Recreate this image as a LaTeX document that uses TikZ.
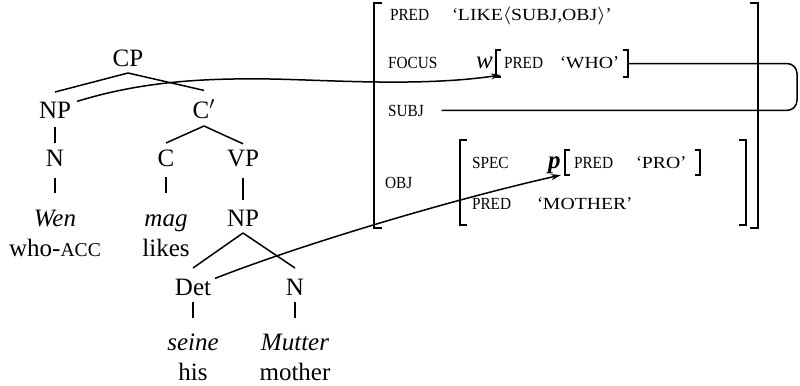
\documentclass[tikz,border=0pt]{standalone}
\usepackage{fontspec}
\usepackage{graphicx}
\setmainfont{Liberation Serif}
\usetikzlibrary{arrows.meta}
\newcommand\trf{\fontsize{12.5pt}{14pt}\selectfont}
\newcommand\avf{\fontsize{8.5pt}{9pt}\selectfont}
\newcommand\smc[1]{{\fontsize{9.8pt}{11pt}\selectfont #1}}
\newcommand\angl[1]{{\fontsize{9pt}{9pt}\selectfont$#1$}}
\newcommand\qt[1]{{\fontsize{9pt}{9pt}\selectfont #1}}
\newcommand\lab[1]{\scalebox{0.9}[1]{#1}}
\newcommand\val[1]{\qt{‘}\scalebox{1.16}[1]{#1}\qt{’}}
\newcommand\fsbrackets[2]{%
  \draw[ln] ([xshift=#2]#1.north west) -- (#1.north west) -- (#1.south west) -- ([xshift=#2]#1.south west);
  \draw[ln] ([xshift=-#2]#1.north east) -- (#1.north east) -- (#1.south east) -- ([xshift=-#2]#1.south east);}
\begin{document}
\begin{tikzpicture}[x=0.5pt,y=-0.5pt,
  ln/.style={line width=0.75pt},
  tn/.style={inner sep=0pt, outer sep=0pt, anchor=base, font=\trf, text height=8.3pt, text depth=0pt},
  av/.style={inner sep=0pt, outer sep=0pt, anchor=base west, font=\avf, text height=5.6pt, text depth=0pt},
  fsb/.style={inner sep=0pt, outer sep=0pt},
  arr/.style={ln, -{Stealth[length=5pt,width=3pt]}}]
\useasboundingbox (0,0) rectangle (800,386);
% tree
\node[tn] (cp) at (128,66) {CP};
\node[tn] (np1) at (55,118) {NP};
\node[tn] (cbar) at (204,118) {C$'$};
\node[tn] (n1) at (55,166) {N};
\node[tn] (c) at (166,166) {C};
\node[tn] (vp) at (243,166) {VP};
\node[tn] (wen) at (55,226) {\itshape Wen};
\node[tn] (mag) at (166,226) {\itshape mag};
\node[tn] (np2) at (243,226) {NP};
\node[tn] (whoacc) at (55,256) {who-\smc{ACC}};
\node[tn] (likes) at (166,256) {likes};
\node[tn] (det) at (193,295) {Det};
\node[tn] (n2) at (295,295) {N};
\node[tn] (seine) at (193,350) {\itshape seine};
\node[tn] (mutter) at (295,350) {\itshape Mutter};
\node[tn] (his) at (193,380) {his};
\node[tn] (mother) at (295,380) {mother};
\draw[ln] ([yshift=-3.5pt]cp.south) -- ([yshift=4.7pt]np1.north);
\draw[ln] ([yshift=-3.5pt]cp.south) -- ([yshift=5.5pt]cbar.north);
\draw[ln] ([yshift=-4.5pt]np1.south) -- ([yshift=3.2pt]n1.north);
\draw[ln] ([yshift=-4pt]cbar.south) -- ([yshift=3.2pt]c.north);
\draw[ln] ([yshift=-4pt]cbar.south) -- ([yshift=2.8pt]vp.north);
\draw[ln] ([yshift=-6pt]n1.south) -- ([yshift=8.2pt]wen.north);
\draw[ln] ([yshift=-5.5pt]c.south) -- ([yshift=8.2pt]mag.north);
\draw[ln] ([yshift=-6pt]vp.south) -- ([yshift=4.7pt]np2.north);
\draw[ln] ([yshift=-3.5pt]np2.south) -- ([yshift=5.2pt]det.north);
\draw[ln] ([yshift=-3.5pt]np2.south) -- ([yshift=5.2pt]n2.north);
\draw[ln] ([yshift=-3.5pt]det.south) -- ([yshift=7.7pt]seine.north);
\draw[ln] ([yshift=-3.5pt]n2.south) -- ([yshift=7.7pt]mutter.north);
% f-structure
\node[fsb, minimum width=192pt, minimum height=112.5pt] (fs) at (566,115.5) {};
\fsbrackets{fs}{4pt}
\node[av] (pred1) at (390,20) {\lab{PRED}};
\node[av] (like) at (452,20) {\val{LIKE\angl{\langle}SUBJ,OBJ\angl{\rangle}}};
\node[av] (focus) at (388,68) {\lab{FOCUS}};
\node[tn, anchor=base west] (w) at (476,68) {\itshape w};
\node[fsb, minimum width=66pt, minimum height=13.5pt] (wfs) at (562,63.5) {};
\fsbrackets{wfs}{2.5pt}
\node[av] (pred2) at (504,68) {\lab{PRED}};
\node[av] (who) at (560,68) {\val{WHO}};
\node[av] (subj) at (388,116) {\lab{SUBJ}};
\node[av] (obj) at (385,188) {\lab{OBJ}};
\node[fsb, minimum width=143pt, minimum height=42.5pt] (objfs) at (603,182.5) {};
\fsbrackets{objfs}{3.5pt}
\node[av] (spec) at (472,168) {\lab{SPEC}};
\node[tn, anchor=base west] (p) at (548,168) {\bfseries\itshape p};
\node[fsb, minimum width=67.5pt, minimum height=12.5pt] (pfs) at (632.5,162.5) {};
\fsbrackets{pfs}{2.5pt}
\node[av] (pred3) at (574,168) {\lab{PRED}};
\node[av] (pro) at (636,168) {\val{PRO}};
\node[av] (pred4) at (472,209) {\lab{PRED}};
\node[av] (mother2) at (537,209) {\val{MOTHER}};
% connectors
\draw[arr] ([xshift=3pt]np1.north east) .. controls (140,82) and (200,78) .. (270,79) .. controls (330,80) and (420,87) .. ([xshift=2.5pt,yshift=1pt]wfs.south west);
\draw[arr] ([xshift=2pt]det.north east) .. controls (300,245) and (450,200) .. ([xshift=-2pt]pfs.south west);
\draw[ln, rounded corners=5pt] (wfs.east) -| (797,86) |- ([xshift=9pt]subj.east);
\end{tikzpicture}
\end{document}
